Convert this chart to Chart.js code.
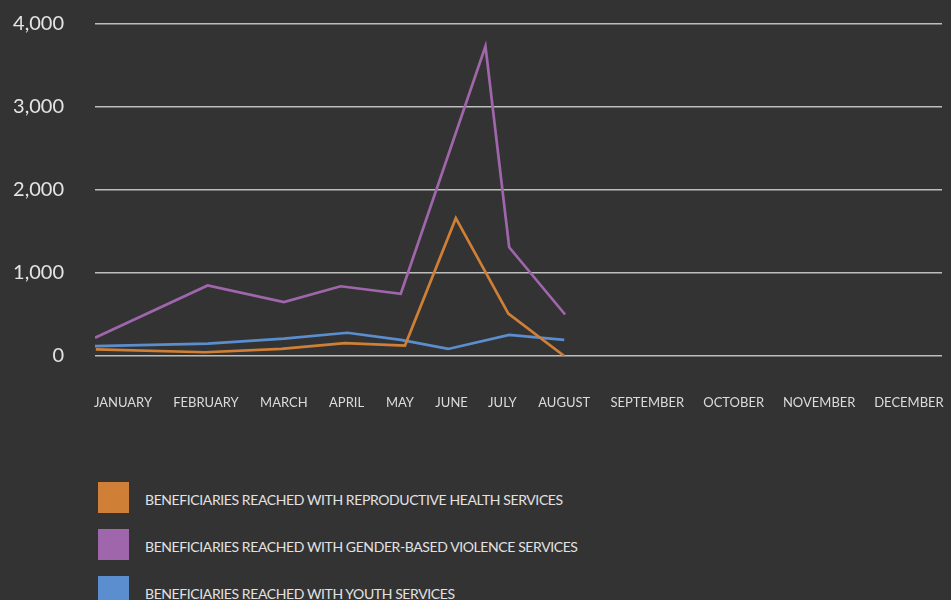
<!DOCTYPE html>
<html>
<head>
<meta charset="utf-8">
<script src="https://cdn.jsdelivr.net/npm/chart.js@4.4.1/dist/chart.umd.min.js"></script>
<style>
  html, body { margin: 0; padding: 0; background: #333333; }
  #wrap { position: relative; width: 951px; height: 600px; overflow: hidden; }
  #chartBox { position: absolute; left: 0; top: 0; width: 951px; height: 420px; }
  #legend { position: absolute; left: 98px; top: 482px; margin: 0; padding: 0; list-style: none; }
  #legend li { display: flex; align-items: center; height: 31px; margin-bottom: 16px; }
  #legend .sw { width: 31px; height: 31px; margin-right: 16px; flex: none; }
  #legend .tx { font-family: Lato, sans-serif; font-size: 14px; letter-spacing: -0.4px; color: #e2e2e2; padding-top: 4px; }
</style>
</head>
<body>
<div id="wrap">
  <div id="chartBox"><canvas id="beneficiaryChart"></canvas></div>
  <ul id="legend"></ul>
</div>
<script>
// month labels and where they sit along the x axis (0-100 = left to right of plot)
const months = ['JANUARY', 'FEBRUARY', 'MARCH', 'APRIL', 'MAY', 'JUNE', 'JULY', 'AUGUST',
                'SEPTEMBER', 'OCTOBER', 'NOVEMBER', 'DECEMBER'];
const monthPos = [3.3, 13.1, 22.3, 29.7, 36.0, 42.1, 48.1, 55.4, 65.2, 75.4, 85.5, 96.1];

const yTicks = [0, 1000, 2000, 3000, 4000];

// series: x = position along axis, y = beneficiaries
const reproX = [0.1, 13.0, 22.0, 29.5, 36.6, 42.6, 48.8, 55.4];
const reproY = [80, 45, 85, 155, 125, 1660, 510, 0];

const gbvX = [0.0, 13.3, 22.3, 29.0, 36.1, 46.1, 48.9, 55.5];
const gbvY = [220, 850, 650, 840, 750, 3730, 1310, 500];

const youthX = [0.0, 13.3, 22.3, 29.8, 36.1, 41.7, 48.9, 55.4];
const youthY = [120, 150, 210, 280, 195, 85, 255, 195];

const seriesLabels = [
  'BENEFICIARIES REACHED WITH REPRODUCTIVE HEALTH SERVICES',
  'BENEFICIARIES REACHED WITH GENDER-BASED VIOLENCE SERVICES',
  'BENEFICIARIES REACHED WITH YOUTH SERVICES'
];
const seriesColors = ['#d08036', '#a066ac', '#5b8ecf'];

const toPoints = (xs, ys) => xs.map((x, i) => ({ x: x, y: ys[i] }));

const datasets = [
  toPoints(reproX, reproY),
  toPoints(gbvX, gbvY),
  toPoints(youthX, youthY)
].map((pts, i) => ({
  label: seriesLabels[i],
  data: pts,
  borderColor: seriesColors[i],
  backgroundColor: seriesColors[i],
  borderWidth: 2.7,
  borderJoinStyle: 'miter',
  pointRadius: 0,
  tension: 0,
  fill: false
}));

new Chart(document.getElementById('beneficiaryChart'), {
  type: 'line',
  data: { datasets: datasets },
  options: {
    responsive: true,
    maintainAspectRatio: false,
    animation: false,
    layout: { padding: { top: 24, right: 9, bottom: 0, left: 0 } },
    plugins: { legend: { display: false }, tooltip: { enabled: false } },
    scales: {
      x: {
        type: 'linear',
        min: 0,
        max: 100,
        afterBuildTicks: (axis) => { axis.ticks = monthPos.map(v => ({ value: v })); },
        afterFit: (axis) => { axis.height = 64; axis.paddingLeft = 0; axis.paddingRight = 0; },
        grid: { display: false, drawTicks: false },
        border: { display: false },
        ticks: {
          autoSkip: false,
          maxRotation: 0,
          padding: 39,
          color: '#dcdcdc',
          font: { family: 'Lato', size: 13 },
          callback: (val, i) => months[i]
        }
      },
      y: {
        min: 0,
        max: 4000,
        afterBuildTicks: (axis) => { axis.ticks = yTicks.map(v => ({ value: v })); },
        afterFit: (axis) => { axis.width = 95; axis.paddingTop = 0; axis.paddingBottom = 0; },
        grid: { color: '#bdbdbd', lineWidth: 1.5, drawTicks: false },
        border: { display: false },
        ticks: {
          padding: 31,
          color: '#e4e4e4',
          font: { family: 'Lato', size: 20 },
          callback: (val) => val.toLocaleString('en-US')
        }
      }
    }
  }
});

// legend as plain html list
const legend = document.getElementById('legend');
seriesLabels.forEach((label, i) => {
  const li = document.createElement('li');
  li.innerHTML = '<span class="sw" style="background:' + seriesColors[i] + '"></span><span class="tx">' + label + '</span>';
  legend.appendChild(li);
});
</script>
</body>
</html>
